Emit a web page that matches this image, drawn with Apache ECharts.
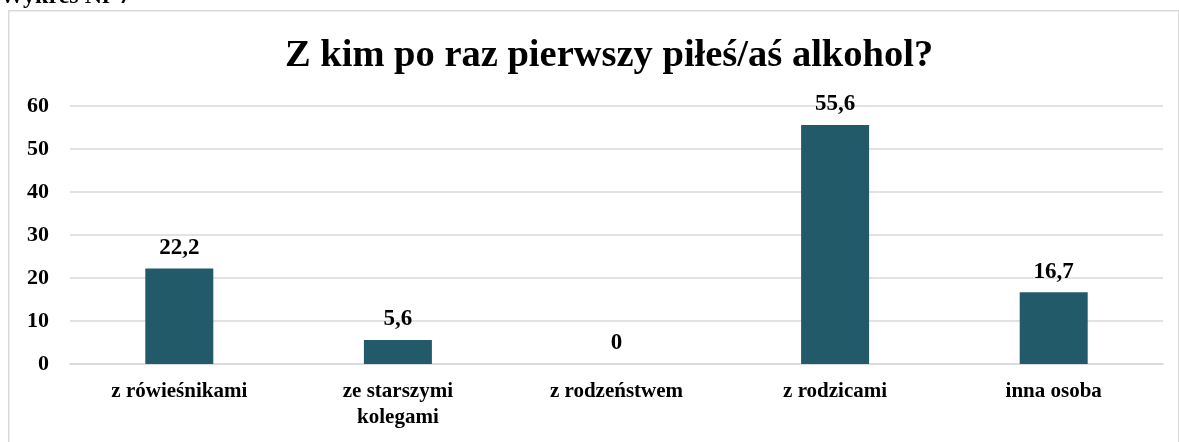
<!DOCTYPE html>
<html><head><meta charset="utf-8">
<script src="https://cdn.jsdelivr.net/npm/echarts@6/dist/echarts.min.js"></script>
<style>html,body{margin:0;padding:0;background:#fff}#c{width:1179px;height:442px}</style>
</head><body><div id="c"></div>
<script>
const categories = ['z rówieśnikami', 'ze starszymi\nkolegami', 'z rodzeństwem', 'z rodzicami', 'inna osoba'];
const values = [22.2, 5.6, 0, 55.6, 16.7];
const yTicks = [0, 10, 20, 30, 40, 50, 60];
const titleText = 'Z kim po raz pierwszy piłeś/aś alkohol?';
const captionText = 'Wykres Nr 7';
const font = '"Liberation Serif", "Times New Roman", serif';

const chart = echarts.init(document.getElementById('c'), null, {renderer: 'canvas'});
chart.setOption({
  animation: false,
  backgroundColor: '#fff',
  graphic: [
    {type: 'rect', left: 8, top: 10, shape: {x: 0, y: 0, width: 1170, height: 440},
     style: {fill: 'transparent', stroke: '#d9d9d9', lineWidth: 1.5}, z: -1},
    {type: 'text', left: 0, top: -15,
     style: {text: captionText, font: 'bold 24px ' + font, fill: '#000'}}
  ],
  title: {
    text: titleText, left: 280, top: 32,
    textStyle: {fontFamily: font, fontWeight: 'bold', fontSize: 38.5, color: '#000'}
  },
  grid: {left: 70, right: 16, top: 106, bottom: 78},
  xAxis: {
    type: 'category', data: categories,
    axisLine: {show: true, lineStyle: {color: '#d9d9d9', width: 1.5}},
    axisTick: {show: false},
    axisLabel: {fontFamily: font, fontWeight: 'bold', fontSize: 21, color: '#000', margin: 15, lineHeight: 26, interval: 0}
  },
  yAxis: {
    type: 'value', min: 0, max: 60, interval: 10,
    axisLine: {show: false}, axisTick: {show: false},
    splitLine: {lineStyle: {color: '#d9d9d9', width: 1.5}},
    axisLabel: {fontFamily: font, fontWeight: 'bold', fontSize: 22, color: '#000', margin: 21,
      formatter: v => yTicks.includes(v) ? String(v) : ''}
  },
  series: [{
    type: 'bar', data: values, barWidth: 68,
    itemStyle: {color: '#225A69'},
    label: {show: true, position: 'top', distance: 9, fontFamily: font, fontWeight: 'bold', fontSize: 23, color: '#000',
      formatter: p => String(p.value).replace('.', ',')}
  }]
});
</script></body></html>
